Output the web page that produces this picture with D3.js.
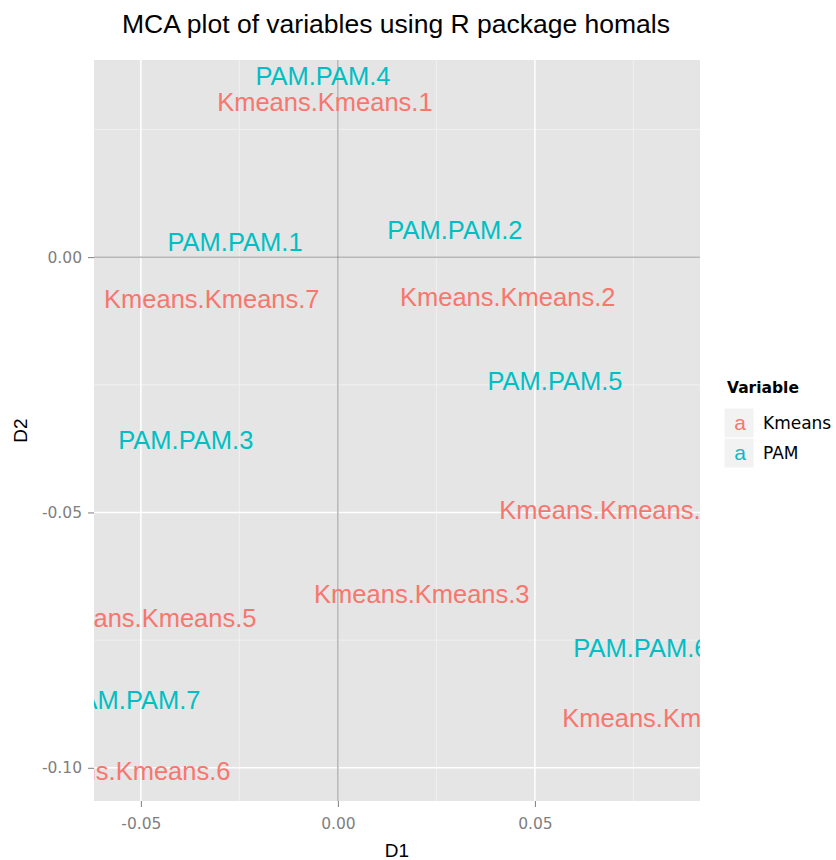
<!doctype html>
<html>
<head>
<meta charset="utf-8">
<script src="https://d3js.org/d3.v7.min.js"></script>
<style>
  body { margin: 0; background: #fff; }
</style>
</head>
<body>
<script>

// category labels and their coordinates (D1, D2)
var labels = ["PAM.PAM.4", "Kmeans.Kmeans.1", "PAM.PAM.2", "PAM.PAM.1", "Kmeans.Kmeans.7",
              "Kmeans.Kmeans.2", "PAM.PAM.5", "PAM.PAM.3", "Kmeans.Kmeans.4", "Kmeans.Kmeans.3",
              "Kmeans.Kmeans.5", "PAM.PAM.6", "PAM.PAM.7", "Kmeans.Kmeans.8", "Kmeans.Kmeans.6"];
var variable = ["PAM", "Kmeans", "PAM", "PAM", "Kmeans",
                "Kmeans", "PAM", "PAM", "Kmeans", "Kmeans",
                "Kmeans", "PAM", "PAM", "Kmeans", "Kmeans"];
var d1 = [-0.0038, -0.0033, 0.0297, -0.0261, -0.0320,
           0.0431, 0.0551, -0.0386, 0.0683, 0.0213,
          -0.0480, 0.0769, -0.0520, 0.0843, -0.0546];
var d2 = [0.0354, 0.0303, 0.0053, 0.0029, -0.0082,
         -0.0078, -0.0243, -0.0358, -0.0495, -0.0659,
         -0.0706, -0.0765, -0.0867, -0.0902, -0.1006];

var groups = ["Kmeans", "PAM"];
var xTicks = [-0.05, 0, 0.05];
var yTicks = [0, -0.05, -0.10];

var data = labels.map(function(l, i) {
    return {label: l, variable: variable[i], x: d1[i], y: d2[i]};
});

var sans = "Liberation Sans, Arial, sans-serif",
    wide = "DejaVu Sans, Verdana, sans-serif";

var margin = {top: 60, right: 136, bottom: 59, left: 94},
    width = 836 - margin.left - margin.right,
    height = 860 - margin.top - margin.bottom;

var svg = d3.select("body").append("svg")
    .attr("width", 836)
    .attr("height", 860)
    .style("font-family", sans);

var g = svg.append("g")
    .attr("transform", "translate(" + margin.left + "," + margin.top + ")");

var x = d3.scaleLinear().domain([-0.0619, 0.0919]).range([0, width]);
var y = d3.scaleLinear().domain([-0.1065, 0.0386]).range([height, 0]);
var color = d3.scaleOrdinal().domain(groups).range(["#F8766D", "#00BFC4"]);
var fmt = function(d) { return d3.format(".2f")(d).replace("\u2212", "-"); };

svg.append("defs").append("clipPath").attr("id", "panel")
  .append("rect").attr("width", width).attr("height", height);

// panel
g.append("rect").attr("width", width).attr("height", height).attr("fill", "#E5E5E5");

// minor grid
var xMinor = [-0.025, 0.025, 0.075], yMinor = [0.025, -0.025, -0.075];
g.selectAll(".xminor").data(xMinor).enter().append("line")
  .attr("x1", function(d) { return x(d); }).attr("x2", function(d) { return x(d); })
  .attr("y1", 0).attr("y2", height)
  .attr("stroke", "#F2F2F2").attr("stroke-width", 0.8);
g.selectAll(".yminor").data(yMinor).enter().append("line")
  .attr("y1", function(d) { return y(d); }).attr("y2", function(d) { return y(d); })
  .attr("x1", 0).attr("x2", width)
  .attr("stroke", "#F2F2F2").attr("stroke-width", 0.8);

// major grid
g.selectAll(".xmajor").data(xTicks).enter().append("line")
  .attr("x1", function(d) { return x(d); }).attr("x2", function(d) { return x(d); })
  .attr("y1", 0).attr("y2", height)
  .attr("stroke", "#FFFFFF").attr("stroke-width", 1.5);
g.selectAll(".ymajor").data(yTicks).enter().append("line")
  .attr("y1", function(d) { return y(d); }).attr("y2", function(d) { return y(d); })
  .attr("x1", 0).attr("x2", width)
  .attr("stroke", "#FFFFFF").attr("stroke-width", 1.5);

// reference lines at 0
g.append("line").attr("x1", x(0)).attr("x2", x(0)).attr("y1", 0).attr("y2", height)
  .attr("stroke", "#8F8F8F").attr("stroke-width", 1);
g.append("line").attr("y1", y(0)).attr("y2", y(0)).attr("x1", 0).attr("x2", width)
  .attr("stroke", "#8F8F8F").attr("stroke-width", 1);

// text labels
g.append("g").attr("clip-path", "url(#panel)")
  .selectAll("text").data(data).enter().append("text")
  .attr("x", function(d) { return x(d.x); })
  .attr("y", function(d) { return y(d.y); })
  .attr("text-anchor", "middle")
  .attr("dy", "0.35em")
  .style("font-family", sans)
  .style("font-size", "25.5px")
  .attr("fill", function(d) { return color(d.variable); })
  .text(function(d) { return d.label; });

// axes
var xAxis = g.append("g")
  .attr("transform", "translate(0," + height + ")")
  .call(d3.axisBottom(x).tickValues(xTicks).tickFormat(fmt).tickSize(6).tickPadding(11));
var yAxis = g.append("g")
  .call(d3.axisLeft(y).tickValues(yTicks).tickFormat(fmt).tickSize(6).tickPadding(6));
[xAxis, yAxis].forEach(function(a) {
    a.select(".domain").remove();
    a.attr("font-family", null).attr("font-size", null);
    a.selectAll(".tick line").attr("stroke", "#7F7F7F");
    a.selectAll(".tick text").attr("fill", "#7F7F7F")
      .style("font-family", wide).style("font-size", "15.5px");
});

// titles
svg.append("text")
  .attr("x", 122).attr("y", 33)
  .attr("textLength", 548).attr("lengthAdjust", "spacingAndGlyphs")
  .style("font-size", "26px").attr("fill", "#000")
  .text("MCA plot of variables using R package homals");
svg.append("text")
  .attr("x", margin.left + width / 2).attr("y", 857)
  .attr("text-anchor", "middle").style("font-size", "19px")
  .text("D1");
svg.append("text")
  .attr("transform", "translate(27," + (margin.top + height / 2) + ") rotate(-90)")
  .attr("text-anchor", "middle").style("font-size", "19px")
  .text("D2");

// legend
var lg = svg.append("g").attr("transform", "translate(722,0)");
lg.append("text").attr("x", 5).attr("y", 393)
  .style("font-family", wide)
  .style("font-size", "15.5px").style("font-weight", "bold").text("Variable");
var items = lg.selectAll(".item").data(groups).enter().append("g")
  .attr("transform", function(d, i) { return "translate(2," + (408 + i * 30) + ")"; });
items.append("rect").attr("width", 30).attr("height", 30)
  .attr("fill", "#F2F2F2").attr("stroke", "#FFFFFF").attr("stroke-width", 1);
items.append("text").attr("x", 16).attr("y", 15).attr("dy", "0.35em")
  .attr("text-anchor", "middle").style("font-size", "21px")
  .style("font-family", sans)
  .attr("fill", function(d) { return color(d); }).text("a");
items.append("text").attr("x", 39).attr("y", 15).attr("dy", "0.36em")
  .style("font-family", wide)
  .style("font-size", "17px").attr("fill", "#000").text(function(d) { return d; });
</script>
</body>
</html>
